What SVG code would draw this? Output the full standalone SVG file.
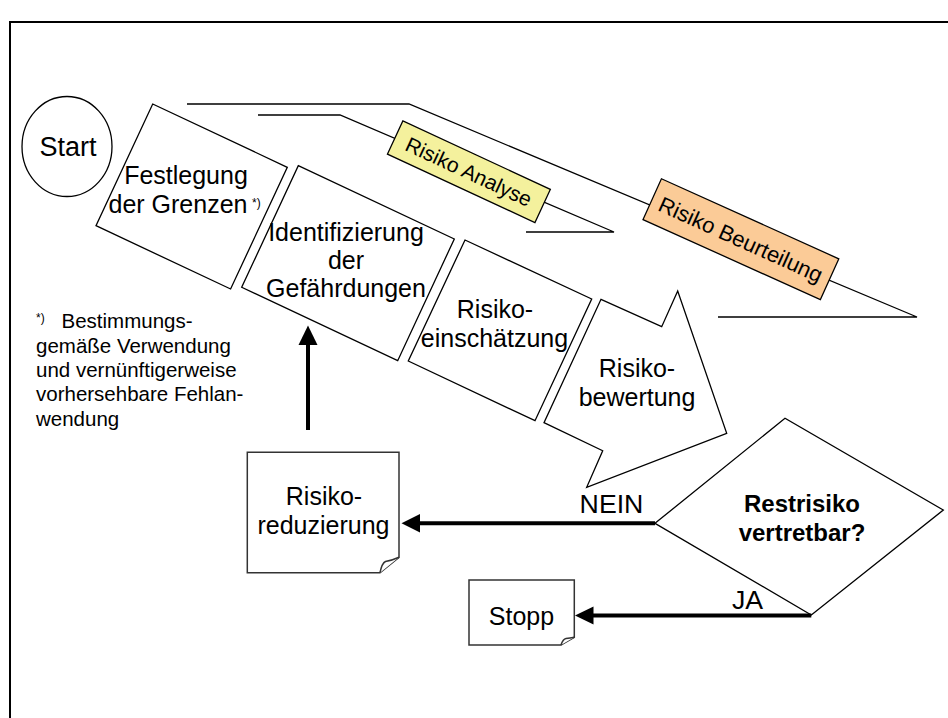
<svg xmlns="http://www.w3.org/2000/svg" width="948" height="718" viewBox="0 0 948 718">
<defs>
<style>
text { font-family: "Liberation Sans", Arial, sans-serif; fill: #000; }
.lbl { font-size: 25px; text-anchor: middle; }
.note { font-size: 20.5px; }
.sup { font-size: 12px; }
.shape { fill: #fff; stroke: #000; stroke-width: 1.3; }
.doc { fill: #fff; stroke: #333; stroke-width: 1.5; }
.thin { fill: none; stroke: #000; stroke-width: 1.3; }
.conn { fill: none; stroke: #000; stroke-width: 4; }
.head { fill: #000; stroke: none; }
</style>
</defs>
<rect x="0" y="0" width="948" height="718" fill="#fff"/>
<rect x="10" y="22" width="960" height="720" fill="none" stroke="#000" stroke-width="2"/>

<g id="brackets">
<polyline class="thin" points="187,104 409,104 917,317 718,317"/>
<polyline class="thin" points="258,115 340,115 614,232 526,232"/>
</g>

<g id="start">
<ellipse class="shape" cx="67" cy="146.5" rx="45" ry="50"/>
<text x="68" y="156" style="font-size:27px" text-anchor="middle">Start</text>
</g>

<g id="festlegung">
<polygon class="shape" points="152.7,104 287.3,167.3 230.6,289 96,225.7"/>
<text class="lbl" x="186" y="184">Festlegung</text>
<text class="lbl" x="178" y="212.5">der Grenzen</text>
<text class="sup" x="252" y="207">*)</text>
</g>

<g id="identifizierung">
<polygon class="shape" points="298.3,165.7 454.3,239 397.7,360.7 241.7,287.3"/>
<text class="lbl" x="346" y="241">Identifizierung</text>
<text class="lbl" x="346" y="268.5">der</text>
<text class="lbl" x="346" y="297">Gefährdungen</text>
</g>

<g id="einschaetzung">
<polygon class="shape" points="465,240 591.7,299 535,420.7 408.3,361"/>
<text class="lbl" x="495" y="317.5">Risiko-</text>
<text class="lbl" x="494.5" y="346.5">einschätzung</text>
</g>

<g id="bewertung">
<polygon class="shape" points="601,299.3 661.7,326.7 677.7,291 726.7,433.3 586.7,487.3 602.7,450.7 544,422.7"/>
<text class="lbl" x="637" y="376.5">Risiko-</text>
<text class="lbl" x="637" y="406">bewertung</text>
</g>

<g id="analyse">
<g transform="translate(468.9,171.7) rotate(24.9)">
<rect x="-81.3" y="-18.3" width="162.6" height="36.6" fill="#F4F19D" stroke="#000" stroke-width="1.3"/>
<text x="0" y="7.5" style="font-size:21px" text-anchor="middle">Risiko Analyse</text>
</g>
</g>

<g id="beurteilung">
<g transform="translate(740.9,239.2) rotate(24.3)">
<rect x="-97.3" y="-22.4" width="194.6" height="44.8" fill="#FBCB97" stroke="#000" stroke-width="1.3"/>
<text x="0" y="8" style="font-size:22px" text-anchor="middle">Risiko Beurteilung</text>
</g>
</g>

<g id="note">
<text class="sup" x="36" y="322">*)</text>
<text class="note" x="61.5" y="328.3">Bestimmungs-</text>
<text class="note" x="36" y="352.6">gemäße Verwendung</text>
<text class="note" x="36" y="376.9">und vernünftigerweise</text>
<text class="note" x="36" y="401.2">vorhersehbare Fehlan-</text>
<text class="note" x="36" y="425.5">wendung</text>
</g>

<g id="entscheidung">
<polygon class="shape" points="655,523.3 785,418.3 943.3,510 811.3,615"/>
<text x="802" y="511.5" style="font-size:24px;font-weight:bold" text-anchor="middle">Restrisiko</text>
<text x="802" y="540.5" style="font-size:24px;font-weight:bold" text-anchor="middle">vertretbar?</text>
</g>

<g id="reduzierung">
<path class="doc" d="M247.3,452.3 H399 V557.3 L380,572.7 H247.3 Z"/>
<path class="doc" d="M380,572.7 Q382,563 385.5,561.5 Q392,560.5 399,557.3"/>
<text class="lbl" x="324" y="505">Risiko-</text>
<text class="lbl" x="323.5" y="533.5">reduzierung</text>
</g>

<g id="stopp">
<path class="doc" d="M469,580 H574.3 V637.3 L561,645 H469 Z"/>
<path class="doc" d="M561,645 Q563,639 566,638.5 Q570,638 574.3,637.3"/>
<text class="lbl" x="521.5" y="625">Stopp</text>
</g>

<g id="connectors">
<line class="conn" x1="308" y1="430" x2="308" y2="343"/>
<polygon class="head" points="308,325.5 317.5,345 298.5,345"/>
<line class="conn" x1="655" y1="523.3" x2="418" y2="523.3"/>
<polygon class="head" points="401.5,523.3 420,514 420,532.6"/>
<line class="conn" x1="811.3" y1="615.5" x2="591" y2="615.5"/>
<polygon class="head" points="575,615.5 593.5,606.5 593.5,624.5"/>
<text x="611.5" y="513" style="font-size:26.7px" text-anchor="middle">NEIN</text>
<text x="747.5" y="609.3" style="font-size:26.7px" text-anchor="middle">JA</text>
</g>
</svg>
